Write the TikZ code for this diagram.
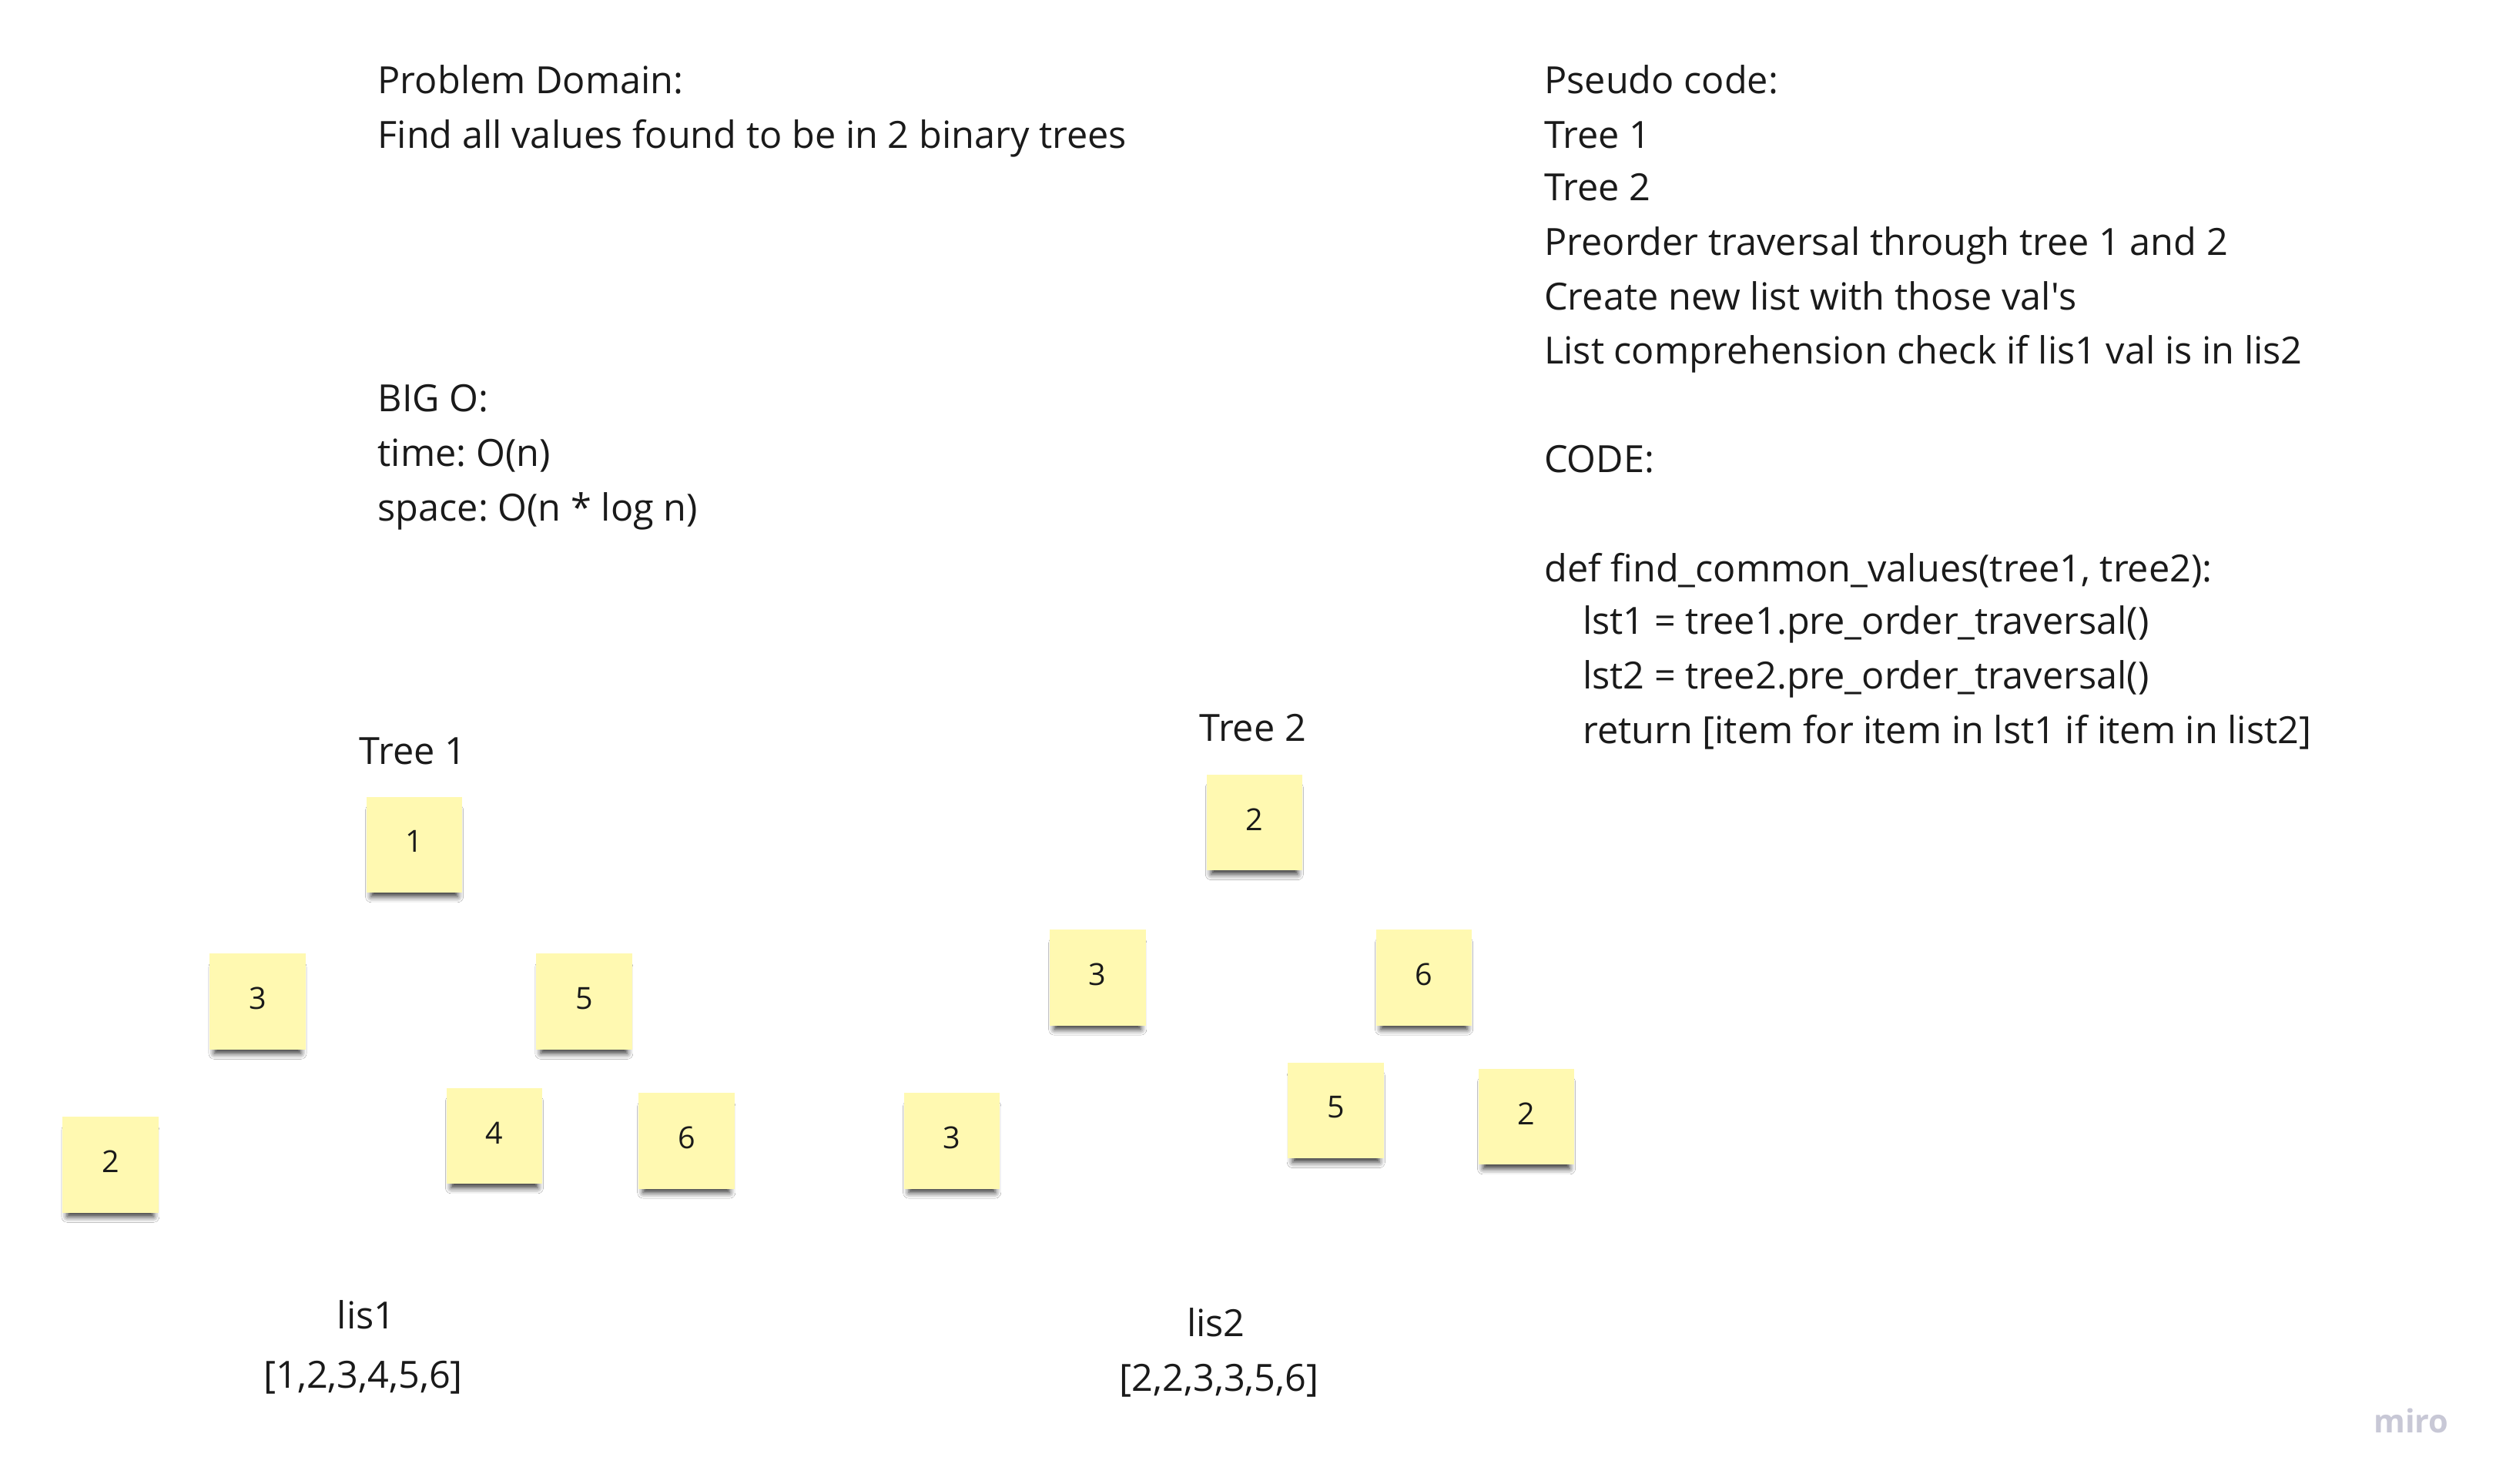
\documentclass[tikz,border=0pt]{standalone}
\usepackage{fontspec}
\setmainfont{Open Sans}
\usetikzlibrary{shadows.blur}
\definecolor{notefill}{HTML}{FFF9B1}
\definecolor{ink}{HTML}{1A1A1A}
\definecolor{mirogray}{HTML}{C8C8D6}
\tikzset{
  txt/.style={anchor=west,inner sep=0pt,text=ink,text height=20pt,text depth=3pt,font=\fontsize{23.4}{28}\selectfont},
  ctxt/.style={anchor=center,inner sep=0pt,text=ink,text height=20pt,text depth=3pt,font=\fontsize{23.4}{28}\selectfont},
  sticky/.style={minimum width=60pt,minimum height=60pt,inner sep=0pt,fill=notefill,text=ink,
    blur shadow={shadow xshift=0pt,shadow yshift=-6pt,shadow blur radius=4pt,shadow scale=0.9,shadow opacity=80}},
  num/.style={inner sep=0pt,text=ink,font=\fontsize{19}{21}\selectfont}
}
\frenchspacing
\begin{document}
\begin{tikzpicture}[x=1pt,y=-1pt]
\useasboundingbox[fill=white] (0,0) rectangle (1560,927.5);
% left column
\node[txt] (pd) at (236,50) {Problem Domain:};
\node[txt] (pd2) at (236,84) {Find all values found to be in 2 binary trees};
\node[txt] (bo) at (236,249) {BIG O:};
\node[txt] (bt) at (236,283) {time: O(n)};
\node[txt] (bs) at (236,317) {space: O(n * log n)};
% right column
\node[txt] (ps) at (965,50) {Pseudo code:};
\node[txt] (ps1) at (965,84) {Tree 1};
\node[txt] (ps2) at (965,117) {Tree 2};
\node[txt] (ps3) at (965,151) {Preorder traversal through tree 1 and 2};
\node[txt] (ps4) at (965,185) {Create new list with those val\textquotesingle s};
\node[txt] (ps5) at (965,219) {List comprehension check if lis1 val is in lis2};
\node[txt] (cd) at (965,287) {CODE:};
\node[txt] (c1) at (965,355) {def find\_common\_values(tree1, tree2):};
\node[txt] (c2) at (989,388) {lst1 = tree1.pre\_order\_traversal()};
\node[txt] (c3) at (989,422) {lst2 = tree2.pre\_order\_traversal()};
\node[txt] (c4) at (989,456) {return [item for item in lst1 if item in list2]};
% tree 1
\node[ctxt] (t1) at (258,469) {Tree 1};
\node[sticky] (a1) at (259,528) {};
\node[sticky] (a3) at (161,626) {};
\node[sticky] (a5) at (365,626) {};
\node[sticky] (a2) at (69,728) {};
\node[sticky] (a4) at (309,710) {};
\node[sticky] (a6) at (429,713) {};
\node[num] at ([yshift=2pt]a1.center) {1};
\node[num] at ([yshift=2pt]a3.center) {3};
\node[num] at ([yshift=2pt]a5.center) {5};
\node[num] at ([yshift=2pt]a2.center) {2};
\node[num] at ([yshift=2pt]a4.center) {4};
\node[num] at ([yshift=2pt]a6.center) {6};
% tree 2
\node[ctxt] (t2) at (783,455) {Tree 2};
\node[sticky] (b2) at (784,514) {};
\node[sticky] (b3) at (686,611) {};
\node[sticky] (b6) at (890,611) {};
\node[sticky] (b3b) at (595,713) {};
\node[sticky] (b5) at (835,694) {};
\node[sticky] (b2b) at (954,698) {};
\node[num] at ([yshift=2pt]b2.center) {2};
\node[num] at ([yshift=2pt]b3.center) {3};
\node[num] at ([yshift=2pt]b6.center) {6};
\node[num] at ([yshift=2pt]b3b.center) {3};
\node[num] at ([yshift=2pt]b5.center) {5};
\node[num] at ([yshift=2pt]b2b.center) {2};
% lists
\node[ctxt] (l1) at (229,822) {lis1};
\node[ctxt] (l1v) at (227,859) {[1,2,3,4,5,6]};
\node[ctxt] (l2) at (760,827) {lis2};
\node[ctxt] (l2v) at (762,861) {[2,2,3,3,5,6]};
% logo
\node[anchor=center,inner sep=0pt,text=mirogray,font=\fontsize{20}{22}\selectfont\bfseries] (miro) at (1507,888) {miro};
\end{tikzpicture}
\end{document}
